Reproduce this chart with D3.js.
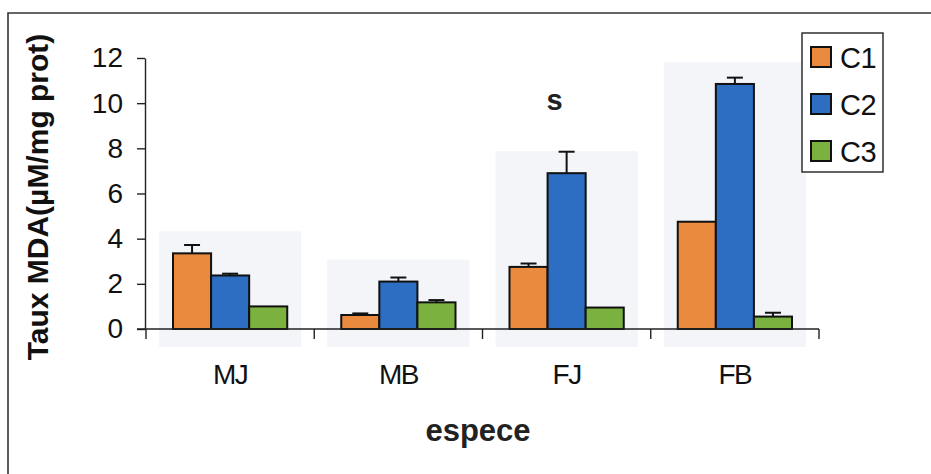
<!DOCTYPE html>
<html>
<head>
<meta charset="utf-8">
<script src="https://cdn.jsdelivr.net/npm/d3@7"></script>
<style>
  body { margin: 0; background: #fff; }
  svg { display: block; font-family: "Liberation Sans", Arial, sans-serif; }
</style>
</head>
<body>
<svg id="chart"></svg>
<script>
// data
const categories = ['MJ', 'MB', 'FJ', 'FB'];
const series = ['C1', 'C2', 'C3'];
const colors = ['#ea8a3f', '#2d6dc2', '#7bb13f'];
const valuesC1 = [3.35, 0.62, 2.75, 4.75];
const valuesC2 = [2.37, 2.1, 6.9, 10.85];
const valuesC3 = [1.0, 1.18, 0.95, 0.55];
const errC1 = [0.37, 0.07, 0.15, 0];
const errC2 = [0.08, 0.18, 0.95, 0.28];
const errC3 = [0, 0.1, 0, 0.17];
const yTicks = [0, 2, 4, 6, 8, 10, 12];
const annotations = [{ cat: 'FJ', value: 9.7, label: 's' }];

const width = 931, height = 474;
const svg = d3.select('#chart').attr('width', width).attr('height', height);

const allValues = [valuesC1, valuesC2, valuesC3];
const allErr = [errC1, errC2, errC3];
const rows = [];
categories.forEach((c, i) => {
    series.forEach((s, j) => {
        rows.push({ cat: c, key: s, value: allValues[j][i], err: allErr[j][i], color: colors[j] });
    });
});

const xscale = d3.scaleBand().domain(categories).range([146, 819]);
const pad = 27;
const x1 = d3.scaleBand().domain(series).range([pad, xscale.bandwidth() - pad]);
const yscale = d3.scaleLinear().domain([0, 12]).range([329, 58]);

// frame of the figure (top and left edges visible in the scan)
svg.append('path')
    .attr('d', `M8,${height} L8,13 L${width},13`)
    .attr('fill', 'none')
    .attr('stroke', '#333')
    .attr('stroke-width', 1.6);

// faint shading behind each group, as in the scan
const grp = d3.group(rows, d => d.cat);
svg.selectAll('.shade')
    .data(categories)
    .join('rect')
    .attr('class', 'shade')
    .attr('x', c => xscale(c) + pad - 14)
    .attr('width', x1.range()[1] - x1.range()[0] + 28)
    .attr('y', c => yscale(d3.max(grp.get(c), d => d.value)) - 22)
    .attr('height', c => yscale(0) - yscale(d3.max(grp.get(c), d => d.value)) + 40)
    .attr('fill', '#f3f5f9');

// bars
svg.selectAll('.bar')
    .data(rows)
    .join('rect')
    .attr('class', 'bar')
    .attr('x', d => xscale(d.cat) + x1(d.key))
    .attr('y', d => yscale(d.value))
    .attr('width', x1.bandwidth())
    .attr('height', d => yscale(0) - yscale(d.value))
    .attr('fill', d => d.color)
    .attr('stroke', '#111')
    .attr('stroke-width', 2);

// error bars (upper half only)
const errRows = rows.filter(d => d.err > 0);
const eb = svg.append('g').attr('stroke', '#111').attr('stroke-width', 2);
eb.selectAll('.stem')
    .data(errRows)
    .join('line')
    .attr('x1', d => xscale(d.cat) + x1(d.key) + x1.bandwidth() / 2)
    .attr('x2', d => xscale(d.cat) + x1(d.key) + x1.bandwidth() / 2)
    .attr('y1', d => yscale(d.value))
    .attr('y2', d => yscale(d.value + d.err));
eb.selectAll('.cap')
    .data(errRows)
    .join('line')
    .attr('x1', d => xscale(d.cat) + x1(d.key) + x1.bandwidth() / 2 - 8)
    .attr('x2', d => xscale(d.cat) + x1(d.key) + x1.bandwidth() / 2 + 8)
    .attr('y1', d => yscale(d.value + d.err))
    .attr('y2', d => yscale(d.value + d.err));

// y axis
const yaxis = d3.axisLeft(yscale).tickValues(yTicks).tickSize(8).tickPadding(14).tickSizeOuter(0);
const yg = svg.append('g').attr('transform', 'translate(145,0)').call(yaxis);
yg.select('.domain').attr('stroke', '#222').attr('stroke-width', 1.4);
yg.selectAll('.tick line').attr('stroke', '#222').attr('stroke-width', 1.4);
yg.selectAll('.tick text')
    .attr('font-size', 28)
    .attr('fill', '#111')
    .attr('font-family', '"Liberation Sans", Arial, sans-serif');

// x axis: line along zero with ticks at the band edges
const xg = svg.append('g');
xg.append('line')
    .attr('x1', 137).attr('x2', xscale.range()[1])
    .attr('y1', yscale(0)).attr('y2', yscale(0))
    .attr('stroke', '#222').attr('stroke-width', 1.4);
const edges = categories.map(c => xscale(c)).concat([xscale.range()[1]]);
xg.selectAll('.edge')
    .data(edges)
    .join('line')
    .attr('x1', d => d).attr('x2', d => d)
    .attr('y1', yscale(0)).attr('y2', yscale(0) + 10)
    .attr('stroke', '#222').attr('stroke-width', 1.4);
xg.selectAll('.catlabel')
    .data(categories)
    .join('text')
    .attr('x', c => xscale(c) + xscale.bandwidth() / 2)
    .attr('y', 384)
    .attr('text-anchor', 'middle')
    .attr('font-size', 28)
    .attr('letter-spacing', -1.5)
    .attr('fill', '#111')
    .text(c => c);

// annotation
svg.selectAll('.annot')
    .data(annotations)
    .join('text')
    .attr('x', d => xscale(d.cat) + xscale.bandwidth() / 2 - 12)
    .attr('y', d => yscale(d.value))
    .attr('text-anchor', 'middle')
    .attr('font-size', 29)
    .attr('font-weight', 'bold')
    .attr('fill', '#222')
    .text(d => d.label);

// axis titles
svg.append('text')
    .attr('x', 478)
    .attr('y', 441)
    .attr('text-anchor', 'middle')
    .attr('font-size', 31)
    .attr('font-weight', 'bold')
    .attr('fill', '#222')
    .text('espece');

svg.append('text')
    .attr('transform', 'translate(48,197) rotate(-90)')
    .attr('text-anchor', 'middle')
    .attr('font-size', 30)
    .attr('font-weight', 'bold')
    .attr('fill', '#111')
    .text('Taux MDA(µM/mg prot)');

// legend
const legend = svg.append('g');
legend.append('rect')
    .attr('x', 802).attr('y', 33)
    .attr('width', 81).attr('height', 139)
    .attr('fill', '#fff')
    .attr('stroke', '#222')
    .attr('stroke-width', 1.4);
const li = legend.selectAll('.item')
    .data(series)
    .join('g')
    .attr('transform', (d, i) => `translate(811, ${47 + i * 47})`);
li.append('rect')
    .attr('width', 20).attr('height', 20)
    .attr('fill', (d, i) => colors[i])
    .attr('stroke', '#111')
    .attr('stroke-width', 2);
li.append('text')
    .attr('x', 29).attr('y', 21)
    .attr('font-size', 29)
    .attr('letter-spacing', -0.5)
    .attr('fill', '#111')
    .text(d => d);
</script>
</body>
</html>
